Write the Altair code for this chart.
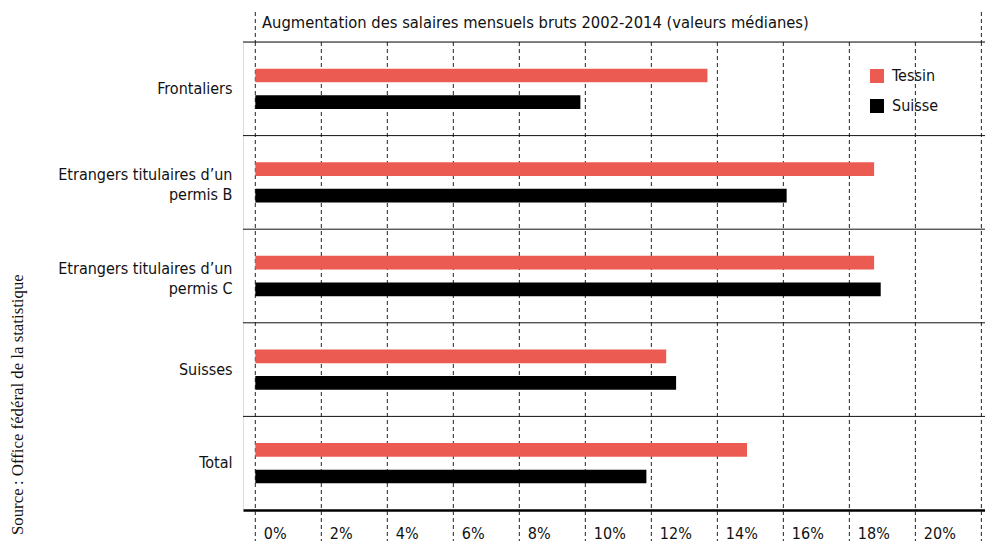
import altair as alt
import pandas as pd

categories = [
    "Frontaliers",
    "Etrangers titulaires d’un|permis B",
    "Etrangers titulaires d’un|permis C",
    "Suisses",
    "Total",
]
series = ["Tessin", "Suisse"]
tessin = [13.7, 18.75, 18.75, 12.45, 14.9]
suisse = [9.85, 16.1, 18.95, 12.75, 11.85]
tick_values = [0, 2, 4, 6, 8, 10, 12, 14, 16, 18, 20]
grid_values = [0, 2, 4, 6, 8, 10, 12, 14, 16, 18, 20, 22]
frame_values = [0, 22]
title_text = ["Augmentation des salaires mensuels bruts 2002-2014 (valeurs médianes)"]
source_text = ["Source\u202f: Office fédéral de la statistique"]

colors = ["#EC5B51", "#000000"]
FONT = "'DejaVu Sans Condensed', 'Liberation Sans Narrow', 'Roboto Condensed', Roboto, sans-serif"

rows = []
for c, t, s in zip(categories, tessin, suisse):
    rows.append({"cat": c, "serie": "Tessin", "val": t})
    rows.append({"cat": c, "serie": "Suisse", "val": s})
df = pd.DataFrame(rows)

W, H = 742, 468
xscale = alt.Scale(domain=[-0.373, 22.11], nice=False, zero=False)
yscale = alt.Scale(domain=categories, paddingInner=0, paddingOuter=0)

grid = alt.Chart(pd.DataFrame({"v": grid_values})).mark_rule(
    color="#222", strokeWidth=1, strokeDash=[4, 3]
).encode(
    x=alt.X("v:Q", scale=xscale, title=None),
    y=alt.value(0),
    y2=alt.value(H + 40),
)

frame = alt.Chart(pd.DataFrame({"v": frame_values})).mark_rule(
    color="#222", strokeWidth=1, strokeDash=[4, 3]
).encode(
    x=alt.X("v:Q", scale=xscale, title=None),
    y=alt.value(-30),
    y2=alt.value(0),
)

seps = alt.Chart(pd.DataFrame({"cat": categories})).mark_rule(
    color="#111", strokeWidth=1
).encode(
    y=alt.Y("cat:N", scale=yscale, bandPosition=0, title=None),
    x=alt.value(0),
    x2=alt.value(W),
)

title = alt.Chart(pd.DataFrame({"t": title_text})).mark_text(
    align="left", baseline="alphabetic", font=FONT, fontSize=16.4, color="#111"
).encode(text="t:N", x=alt.value(19), y=alt.value(-14))

source = alt.Chart(pd.DataFrame({"t": source_text})).mark_text(
    align="left", baseline="middle", angle=270, font="Liberation Serif",
    fontSize=16.8, color="#111"
).encode(text="t:N", x=alt.value(-225), y=alt.value(493))

bars = alt.Chart(df).mark_bar().encode(
    x=alt.X(
        "val:Q",
        scale=xscale,
        title=None,
        axis=alt.Axis(
            values=tick_values,
            labelExpr="datum.value + '%'",
            grid=False,
            ticks=False,
            tickSize=0,
            domain=True,
            domainColor="#000",
            domainWidth=2.5,
            labelAlign="left",
            labelBaseline="top",
            labelOffset=8,
            labelPadding=15,
            labelFontSize=16,
            labelColor="#111",
            labelFont=FONT,
        ),
    ),
    y=alt.Y(
        "cat:N",
        scale=yscale,
        sort=categories,
        title=None,
        axis=alt.Axis(
            labelExpr="split(datum.value, '|')",
            labelFontSize=16,
            labelFont=FONT,
            labelColor="#111",
            labelLineHeight=20,
            labelPadding=11,
            labelLimit=300,
            labelOffset={"condition": {"test": "indexof(datum.value, '|') >= 0", "value": -7}, "value": 0},
            ticks=False,
            domain=False,
            grid=False,
        ),
    ),
    yOffset=alt.YOffset(
        "serie:N",
        sort=series,
        scale=alt.Scale(domain=series, paddingInner=0.486, paddingOuter=1),
    ),
    color=alt.Color(
        "serie:N",
        scale=alt.Scale(domain=series, range=colors),
        legend=alt.Legend(
            title=None,
            orient="none",
            legendX=626,
            legendY=26,
            symbolType="square",
            symbolSize=196,
            symbolStrokeWidth=0,
            symbolOpacity=1,
            labelFontSize=16,
            labelFont=FONT,
            labelColor="#111",
            labelOffset=7,
            rowPadding=14,
            padding=0,
        ),
    ),
)

chart = alt.layer(grid, frame, seps, bars, title, source).properties(
    width=W,
    height=H,
    autosize=alt.AutoSizeParams(type="none"),
    padding={"left": 235, "top": 34, "right": 0, "bottom": 35},
).configure_view(stroke=None).configure(background="white")

chart.save("out.html", embed_options={"renderer": "svg", "actions": False})
